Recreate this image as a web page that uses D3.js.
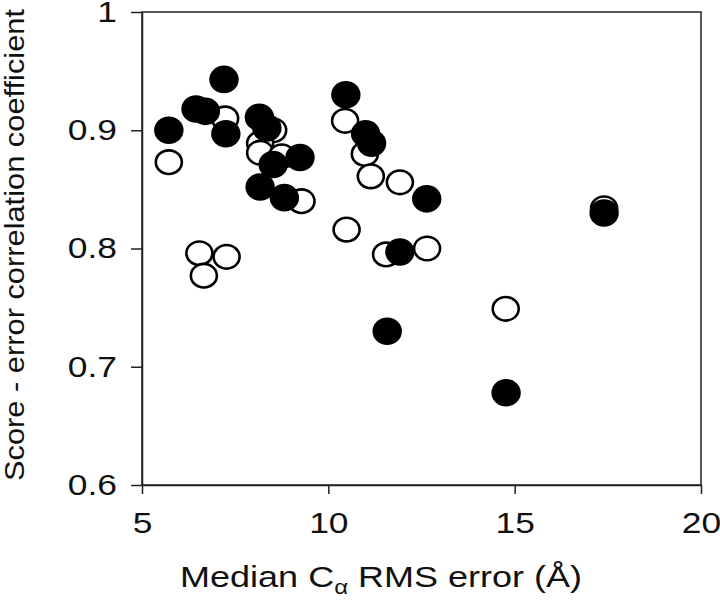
<!DOCTYPE html>
<html>
<head>
<meta charset="utf-8">
<script src="https://cdn.jsdelivr.net/npm/d3@7"></script>
<style>
  body { margin: 0; background: #fff; }
  text { font-family: "Liberation Sans", Arial, sans-serif; fill: #111; }
</style>
</head>
<body>
<div id="container"></div>
<script>
var totalWidth = 720,
    totalHeight = 600,
    margin = {top: 12, right: 19, bottom: 115, left: 142},
    width = totalWidth - margin.left - margin.right,
    height = totalHeight - margin.top - margin.bottom;

// tick values
var xTicks = [5, 10, 15, 20];
var yTicks = [0.6, 0.7, 0.8, 0.9, 1];

// open circles (x = median RMS error, y = correlation)
var openX = [5.72, 7.23, 8.52, 8.17, 8.17, 8.75, 9.28, 10.45, 10.98, 11.14, 11.92, 10.49, 11.55, 12.65, 14.76, 6.54, 7.27, 6.66, 17.4];
var openY = [0.873, 0.910, 0.900, 0.889, 0.881, 0.878, 0.840, 0.908, 0.880, 0.861, 0.856, 0.816, 0.795, 0.800, 0.749, 0.796, 0.793, 0.777, 0.834];

// filled circles
var filledX = [5.72, 6.45, 6.7, 7.2, 7.25, 8.15, 8.35, 8.52, 9.24, 8.17, 8.82, 10.47, 11.0, 11.16, 12.64, 11.92, 17.4, 11.58, 14.77];
var filledY = [0.900, 0.918, 0.916, 0.943, 0.897, 0.911, 0.902, 0.871, 0.877, 0.852, 0.843, 0.930, 0.897, 0.889, 0.842, 0.797, 0.830, 0.730, 0.678];

var xScale = d3.scaleLinear().domain([5, 20]).range([0, width]);
var yScale = d3.scaleLinear().domain([0.6, 1]).range([height, 0]);

var xAxis = d3.axisBottom(xScale)
              .tickValues(xTicks)
              .tickSize(9)
              .tickSizeOuter(0)
              .tickPadding(18)
              .tickFormat(d3.format("d"));
var yAxis = d3.axisLeft(yScale)
              .tickValues(yTicks)
              .tickSize(11)
              .tickSizeOuter(0)
              .tickPadding(14)
              .tickFormat(function(d) { return d === 1 ? "1" : d.toFixed(1); });

var svg = d3.select("#container")
            .append("svg")
            .attr("width", totalWidth)
            .attr("height", totalHeight)
            .append("g")
            .attr("transform", "translate(" + margin.left + "," + margin.top + ")");

// frame
svg.append("rect")
   .attr("width", width)
   .attr("height", height)
   .attr("fill", "none")
   .attr("stroke", "#222")
   .attr("stroke-width", 1.5);

var gx = svg.append("g")
   .attr("transform", "translate(0," + height + ")")
   .call(xAxis);
var gy = svg.append("g").call(yAxis);

// the scanned lettering is a bit wider than Arial
[gx, gy].forEach(function(g) {
  g.selectAll("path, line").attr("stroke", "#222").attr("stroke-width", 1.5);
  g.selectAll("text")
   .attr("font-size", 29)
   .attr("font-family", "'Liberation Sans', Arial, sans-serif")
   .attr("fill", "#111")
   .each(function() {
     var w = this.getComputedTextLength();
     d3.select(this).attr("textLength", w * 1.22).attr("lengthAdjust", "spacingAndGlyphs");
   });
});

var openData = openX.map(function(x, i) { return {x: x, y: openY[i]}; });
var filledData = filledX.map(function(x, i) { return {x: x, y: filledY[i]}; });

svg.append("g")
   .attr("class", "open")
   .selectAll("ellipse")
   .data(openData).enter()
   .append("ellipse")
   .attr("cx", function(d) { return xScale(d.x); })
   .attr("cy", function(d) { return yScale(d.y); })
   .attr("rx", 13)
   .attr("ry", 11.8)
   .attr("fill", "#fff")
   .attr("stroke", "#000")
   .attr("stroke-width", 2.6);

svg.append("g")
   .attr("class", "filled")
   .selectAll("ellipse")
   .data(filledData).enter()
   .append("ellipse")
   .attr("cx", function(d) { return xScale(d.x); })
   .attr("cy", function(d) { return yScale(d.y); })
   .attr("rx", 14.7)
   .attr("ry", 13.8)
   .attr("fill", "#000");

// axis titles
var xTitle = svg.append("g")
   .attr("transform", "translate(" + (381 - margin.left) + "," + (587 - margin.top) + ") scale(1.2,1)")
   .append("text")
   .attr("text-anchor", "middle")
   .attr("font-size", 30);
xTitle.append("tspan").text("Median C");
xTitle.append("tspan").attr("font-size", 20).attr("dy", 7).text("\u03b1");
xTitle.append("tspan").attr("dy", -7).text(" RMS error (\u00c5)");

svg.append("text")
   .attr("transform", "translate(" + (24 - margin.left) + "," + (245 - margin.top) + ") rotate(-90)")
   .attr("text-anchor", "middle")
   .attr("font-size", 28)
   .attr("textLength", 472)
   .attr("lengthAdjust", "spacingAndGlyphs")
   .text("Score - error correlation coefficient");
</script>
</body>
</html>
